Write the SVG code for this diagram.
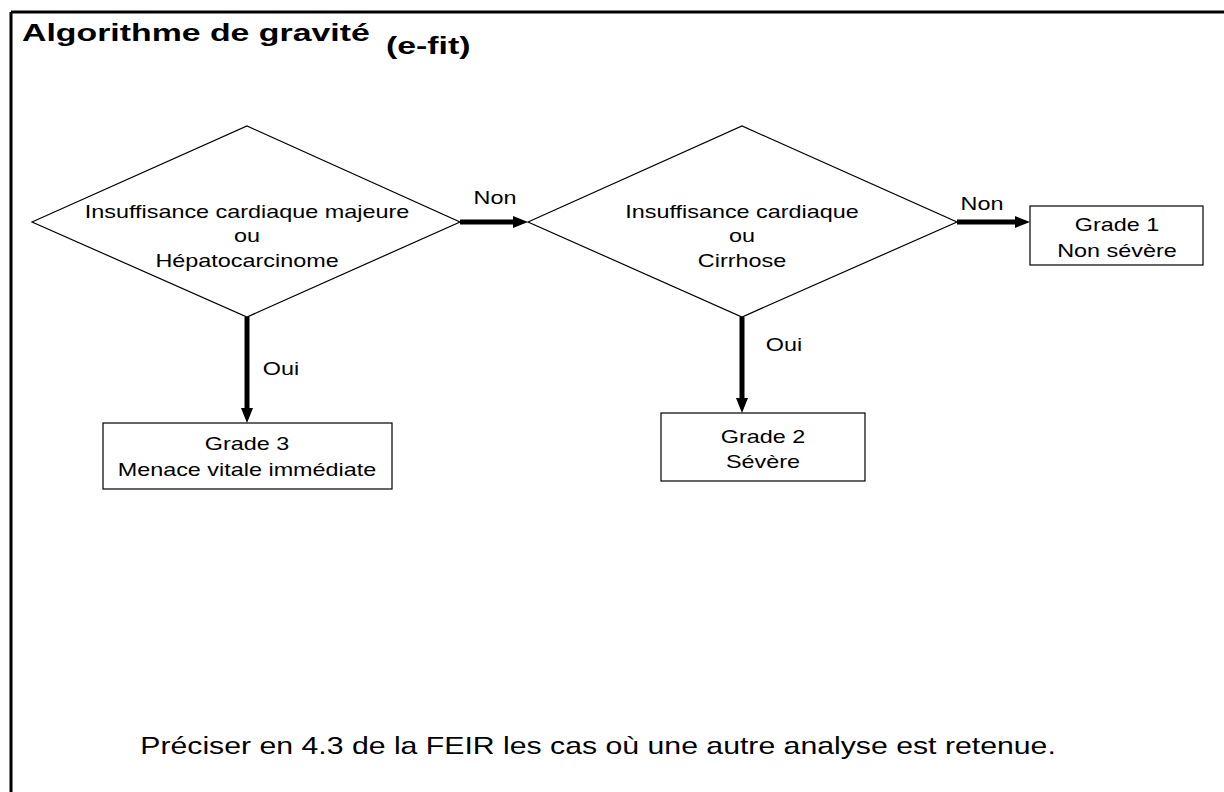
<svg xmlns="http://www.w3.org/2000/svg" width="1224" height="792" viewBox="0 0 1224 792">
<style>
.shape{fill:#fff;stroke:#000;stroke-width:1.2}
.t{font-family:"Liberation Sans",Arial,sans-serif;font-size:18px;fill:#000;text-anchor:middle}
.title{font-family:"Liberation Sans",Arial,sans-serif;font-size:24px;font-weight:bold;fill:#000}
.foot{font-family:"Liberation Sans",Arial,sans-serif;font-size:24px;fill:#000;text-anchor:middle}
.conn{stroke:#000;stroke-width:5;fill:none}
</style>
<defs>
<marker id="ah" markerUnits="userSpaceOnUse" markerWidth="16" markerHeight="14" refX="0" refY="7" orient="auto">
<path d="M0,1 L15,7 L0,13 z" fill="#000"/>
</marker>
</defs>
<rect width="1224" height="792" fill="#fff"/>
<g id="frame">
<line x1="11" y1="12" x2="1224" y2="12" stroke="#000" stroke-width="3"/>
<line x1="11" y1="12" x2="11" y2="792" stroke="#000" stroke-width="3"/>
</g>
<g id="title">
<text class="title" transform="translate(22,41) scale(1.41,1)">Algorithme de gravité</text>
<text class="title" transform="translate(386,54) scale(1.41,1)">(e-fit)</text>
</g>
<g id="decision1">
<polygon class="shape" points="32,222 247,126 460,222 247,317"/>
<text class="t" transform="translate(247,218) scale(1.3,1)">Insuffisance cardiaque majeure</text>
<text class="t" transform="translate(247,242) scale(1.3,1)">ou</text>
<text class="t" transform="translate(247,267) scale(1.3,1)">Hépatocarcinome</text>
</g>
<g id="decision2">
<polygon class="shape" points="528,222 742,126 957,222 742,317"/>
<text class="t" transform="translate(742,218) scale(1.3,1)">Insuffisance cardiaque</text>
<text class="t" transform="translate(742,242) scale(1.3,1)">ou</text>
<text class="t" transform="translate(742,267) scale(1.3,1)">Cirrhose</text>
</g>
<g id="grade1">
<rect class="shape" x="1030" y="206" width="173" height="59"/>
<text class="t" transform="translate(1117,231) scale(1.3,1)">Grade 1</text>
<text class="t" transform="translate(1117,257) scale(1.3,1)">Non sévère</text>
</g>
<g id="grade3">
<rect class="shape" x="103" y="423" width="289" height="66"/>
<text class="t" transform="translate(247,450) scale(1.3,1)">Grade 3</text>
<text class="t" transform="translate(247,476) scale(1.3,1)">Menace vitale immédiate</text>
</g>
<g id="grade2">
<rect class="shape" x="661" y="413" width="204" height="68"/>
<text class="t" transform="translate(763,443) scale(1.3,1)">Grade 2</text>
<text class="t" transform="translate(763,468) scale(1.3,1)">Sévère</text>
</g>
<g id="connectors">
<line class="conn" x1="460" y1="222" x2="513" y2="222" marker-end="url(#ah)"/>
<line class="conn" x1="957" y1="222" x2="1015" y2="222" marker-end="url(#ah)"/>
<line class="conn" x1="247" y1="317" x2="247" y2="408" marker-end="url(#ah)"/>
<line class="conn" x1="742" y1="317" x2="742" y2="398" marker-end="url(#ah)"/>
<text class="t" transform="translate(495,204) scale(1.3,1)">Non</text>
<text class="t" transform="translate(982,210) scale(1.3,1)">Non</text>
<text class="t" transform="translate(281,375) scale(1.3,1)">Oui</text>
<text class="t" transform="translate(784,351) scale(1.3,1)">Oui</text>
</g>
<g id="note">
<text class="foot" transform="translate(598,754) scale(1.26,1)">Préciser en 4.3 de la FEIR les cas où une autre analyse est retenue.</text>
</g>
</svg>
